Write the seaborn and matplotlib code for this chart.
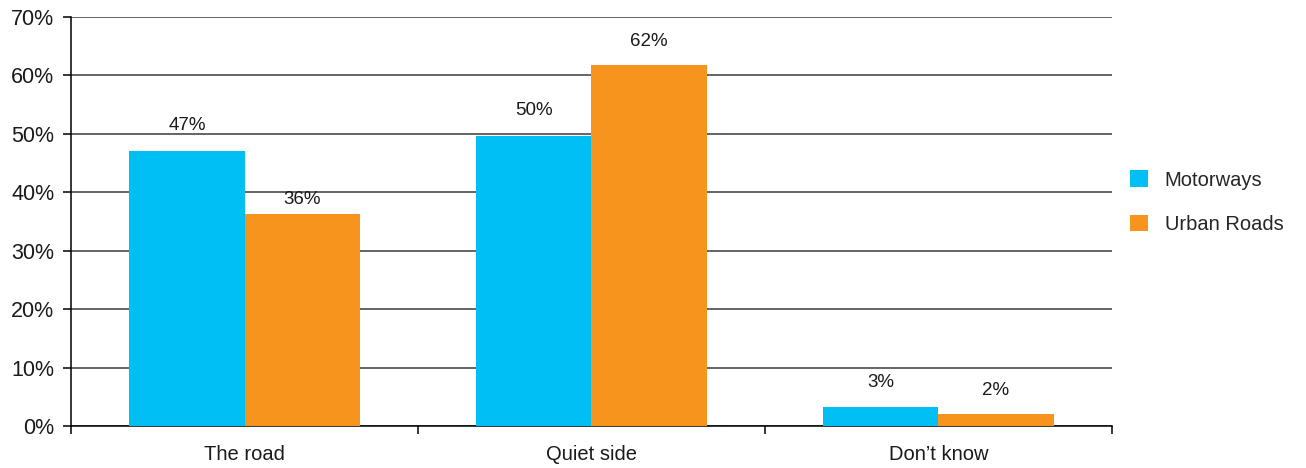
import pandas as pd
import numpy as np
import matplotlib.pyplot as plt
import seaborn as sns

# ------------------------------------------------------------------
# Data
# ------------------------------------------------------------------

categories = ['The road', 'Quiet side', 'Don\u2019t know']
series = ['Motorways', 'Urban Roads']
motorways = [47.1, 49.7, 3.2]
urban_roads = [36.3, 61.7, 2.0]
y_ticks = [0, 10, 20, 30, 40, 50, 60, 70]

df = pd.DataFrame({
    'Answer': categories * 2,
    'Road': [series[0]] * 3 + [series[1]] * 3,
    'Share': motorways + urban_roads,
})

# ------------------------------------------------------------------
# Plot
# ------------------------------------------------------------------

sns.set_style('white')
plt.rcParams['font.family'] = ['Liberation Sans', 'DejaVu Sans']

fig = plt.figure(figsize=(13.06, 4.68), dpi=100)
ax = fig.add_axes([0.0544, 0.0897, 0.797, 0.874])

colors = ['#00BFF3', '#F7941E']
sns.barplot(data=df, x='Answer', y='Share', hue='Road', order=categories,
            hue_order=series, palette=colors, width=0.664, saturation=1,
            ax=ax, zorder=3, linewidth=0)

# Value labels above the bars
offsets = {0: 12, 1: 12, 2: 12, 3: 4, 4: 11, 5: 11}
patches = [p for c in ax.containers for p in c]
for i, p in enumerate(patches):
    h = p.get_height()
    ax.annotate(f'{h:.0f}%', (p.get_x() + p.get_width() / 2, h),
                xytext=(0, offsets[i]), textcoords='offset points',
                ha='center', va='bottom', fontsize=13.5, color='#1a1a1a')

# Axes styling
ax.set_ylim(0, 70)
ax.set_xlim(-0.5, 2.5)
ax.set_yticks(y_ticks)
ax.set_yticklabels([f'{t}%' for t in y_ticks], fontsize=15.5, color='#1a1a1a')
ax.yaxis.grid(True, color='#3a3a3a', linewidth=1.1, zorder=0)
ax.set_axisbelow(True)
ax.tick_params(axis='y', direction='out', length=6, width=1.1, color='black', pad=6, left=True)
ax.set_xticks(range(len(categories)))
ax.set_xticklabels(categories, fontsize=14.5, color='#1a1a1a')
ax.set_xticks([-0.5, 0.5, 1.5, 2.5], minor=True)
ax.tick_params(axis='x', which='major', length=0, pad=14)
ax.tick_params(axis='x', which='minor', direction='out', length=6, width=1.1, color='black', bottom=True)
ax.set_xlabel('')
ax.set_ylabel('')

for side in ['top', 'right']:
    ax.spines[side].set_visible(False)
for side in ['left', 'bottom']:
    ax.spines[side].set_color('black')
    ax.spines[side].set_linewidth(1.1)

ax.legend(title=None, frameon=False, fontsize=14.5, loc='center left',
          bbox_to_anchor=(0.851, 0.568), bbox_transform=fig.transFigure,
          handlelength=0.9, handleheight=0.9, handletextpad=0.85, labelspacing=1.25)

fig.savefig('out.png', dpi=100)
